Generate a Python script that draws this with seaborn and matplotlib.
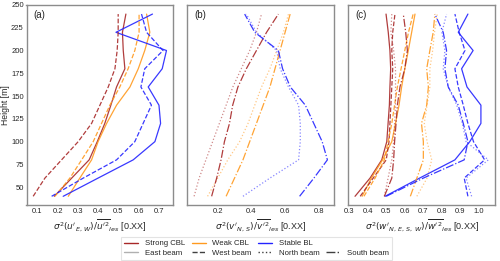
import numpy as np
import pandas as pd
import matplotlib.pyplot as plt
import seaborn as sns
from matplotlib.lines import Line2D

sns.set_theme(style="white")
plt.rcParams["font.family"] = ["Liberation Sans", "DejaVu Sans"]

# ===============================
# DATOS
# ===============================
heights = [40, 60, 80, 100, 120, 140, 160, 180, 200, 220, 240]
cases = ["Strong CBL", "Weak CBL", "Stable BL"]

# panel (a): u' east / west beams
a_strong_east = [0.184, 0.27, 0.356, 0.396, 0.433, 0.463, 0.491, 0.532, 0.524, 0.52, 0.537]
a_strong_west = [0.08, 0.138, 0.22, 0.302, 0.368, 0.409, 0.45, 0.483, 0.494, 0.499, 0.499]
a_weak_east = [0.253, 0.31, 0.368, 0.40, 0.442, 0.491, 0.557, 0.598, 0.63, 0.655, 0.639]
a_weak_west = [0.187, 0.261, 0.319, 0.376, 0.417, 0.458, 0.507, 0.548, 0.581, 0.602, 0.602]
a_stable_east = [0.228, 0.40, 0.573, 0.68, 0.708, 0.70, 0.647, 0.716, 0.737, 0.488, 0.668]
a_stable_west = [0.171, 0.327, 0.491, 0.581, 0.622, 0.663, 0.611, 0.63, 0.72, 0.639, 0.614]

# panel (b): v' north / south beams
b_strong_north = [0.06, 0.09, 0.13, 0.17, 0.21, 0.25, 0.29, 0.34, 0.39, 0.43, 0.46]
b_strong_south = [0.164, 0.194, 0.22, 0.24, 0.27, 0.289, 0.32, 0.37, 0.43, 0.49, 0.56]
b_weak_north = [0.14, 0.20, 0.26, 0.33, 0.38, 0.42, 0.46, 0.51, 0.55, 0.59, 0.62]
b_weak_south = [0.25, 0.30, 0.35, 0.39, 0.43, 0.47, 0.51, 0.54, 0.57, 0.60, 0.63]
b_stable_north = [0.35, 0.51, 0.68, 0.69, 0.69, 0.68, 0.62, 0.571, 0.55, 0.43, 0.37]
b_stable_south = [0.686, 0.771, 0.851, 0.82, 0.77, 0.72, 0.631, 0.585, 0.56, 0.42, 0.36]

# panel (c): w' all beams
c_strong_east = [0.332, 0.413, 0.476, 0.503, 0.51, 0.517, 0.52, 0.524, 0.52, 0.511, 0.499]
c_strong_west = [0.36, 0.43, 0.50, 0.515, 0.52, 0.525, 0.53, 0.535, 0.53, 0.535, 0.547]
c_strong_north = [0.49, 0.51, 0.53, 0.54, 0.545, 0.55, 0.55, 0.55, 0.54, 0.525, 0.53]
c_strong_south = [0.49, 0.53, 0.54, 0.545, 0.553, 0.56, 0.574, 0.60, 0.614, 0.605, 0.592]
c_weak_east = [0.37, 0.42, 0.48, 0.53, 0.55, 0.569, 0.583, 0.60, 0.619, 0.637, 0.655]
c_weak_west = [0.38, 0.44, 0.49, 0.51, 0.53, 0.545, 0.56, 0.58, 0.60, 0.62, 0.645]
c_weak_north = [0.665, 0.72, 0.745, 0.72, 0.705, 0.72, 0.735, 0.735, 0.75, 0.76, 0.775]
c_weak_south = [0.63, 0.665, 0.70, 0.70, 0.69, 0.718, 0.727, 0.718, 0.735, 0.753, 0.762]
c_stable_east = [0.494, 0.68, 0.87, 0.95, 1.01, 1.01, 0.935, 0.906, 0.968, 0.888, 0.94]
c_stable_west = [0.94, 0.92, 1.03, 0.97, 0.94, 0.915, 0.888, 0.87, 0.924, 0.893, 0.87]
c_stable_north = [0.96, 0.93, 1.05, 0.93, 0.91, 0.88, 0.834, 0.807, 0.816, 0.80, 0.825]
c_stable_south = [0.50, 0.70, 0.92, 0.94, 0.915, 0.888, 0.834, 0.816, 0.825, 0.807, 0.762]

paneles = {
    "a": {"East beam": [a_strong_east, a_weak_east, a_stable_east],
          "West beam": [a_strong_west, a_weak_west, a_stable_west]},
    "b": {"North beam": [b_strong_north, b_weak_north, b_stable_north],
          "South beam": [b_strong_south, b_weak_south, b_stable_south]},
    "c": {"East beam": [c_strong_east, c_weak_east, c_stable_east],
          "West beam": [c_strong_west, c_weak_west, c_stable_west],
          "North beam": [c_strong_north, c_weak_north, c_stable_north],
          "South beam": [c_strong_south, c_weak_south, c_stable_south]},
}

xlabels = {
    "a": r"$\sigma^2(u'_{E,\,W})/\overline{u'^2}_{les}$ [0.XX]",
    "b": r"$\sigma^2(v'_{N,\,S})/\overline{v'^2}_{les}$ [0.XX]",
    "c": r"$\sigma^2(w'_{N,\,E,\,S,\,W})/\overline{w'^2}_{les}$ [0.XX]",
}
xticks = {
    "a": [0.1, 0.2, 0.3, 0.4, 0.5, 0.6, 0.7],
    "b": [0.2, 0.4, 0.6, 0.8],
    "c": [0.3, 0.4, 0.5, 0.6, 0.7, 0.8, 0.9, 1.0],
}

colores = {"Strong CBL": "#a82828", "Weak CBL": "#ff9a1f", "Stable BL": "#2323ff"}
estilos = {"East beam": "-", "West beam": "--", "North beam": ":", "South beam": "-."}
alfas = {"East beam": 0.9, "West beam": 0.9, "North beam": 0.55, "South beam": 0.9}

# ===============================
# FIGURA
# ===============================
fig, axes = plt.subplots(1, 3, figsize=(5.0, 2.61), dpi=100, sharey=True)
fig.subplots_adjust(left=0.053, right=0.99, bottom=0.213, top=0.981, wspace=0.0975)

for ax, (clave, beams) in zip(axes, paneles.items()):
    for beam, series in beams.items():
        for caso, valores in zip(cases, series):
            df = pd.DataFrame({"valor": valores, "altura": heights})
            sns.lineplot(data=df, x="valor", y="altura", ax=ax, sort=False,
                         estimator=None, orient="y", color=colores[caso],
                         linestyle=estilos[beam], alpha=alfas[beam], linewidth=0.9)
    ax.set_xticks(xticks[clave])
    ax.set_yticks([50, 75, 100, 125, 150, 175, 200, 225, 250])
    ax.set_xlabel(xlabels[clave], fontsize=6.5, labelpad=2)
    ax.set_ylabel("")
    ax.tick_params(labelsize=5.5, pad=2, length=0)
    ax.text(0.05, 0.975, f"({clave})", transform=ax.transAxes, fontsize=7,
            ha="left", va="top")
    for s in ax.spines.values():
        s.set_color("#8c8c8c")
        s.set_linewidth(1.0)

axes[0].set_ylabel("Height [m]", fontsize=6.2, labelpad=1)

handles = [
    Line2D([], [], color=colores["Strong CBL"], lw=1.0),
    Line2D([], [], color="#b0b0b0", lw=1.0, ls="-"),
    Line2D([], [], color=colores["Weak CBL"], lw=1.0),
    Line2D([], [], color="#404040", lw=1.0, ls="--"),
    Line2D([], [], color=colores["Stable BL"], lw=1.0),
    Line2D([], [], color="#404040", lw=1.0, ls=":"),
    Line2D([], [], color="none"),
    Line2D([], [], color="#404040", lw=1.0, ls="-."),
]
labels = ["Strong CBL", "East beam", "Weak CBL", "West beam", "Stable BL",
          "North beam", "", "South beam"]
leg = fig.legend(handles, labels, loc="upper center", bbox_to_anchor=(0.513, 0.108),
                 ncol=4, fontsize=5.6, frameon=True, handlelength=1.8,
                 columnspacing=0.9, handletextpad=0.8, labelspacing=0.3,
                 borderpad=0.4, fancybox=False)
leg.get_frame().set_edgecolor("#dddddd")
leg.get_frame().set_linewidth(0.8)

plt.savefig("out.png", dpi=100)
plt.close()
